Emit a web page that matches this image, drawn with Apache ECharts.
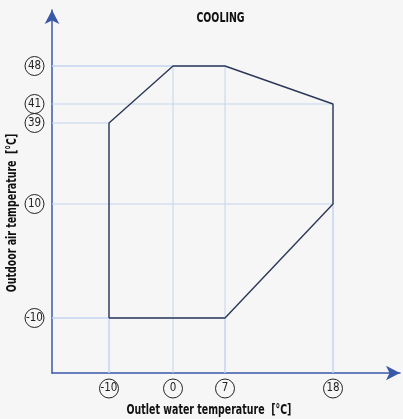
<!DOCTYPE html>
<html>
<head>
<meta charset="utf-8">
<script src="https://cdn.jsdelivr.net/npm/echarts@6/dist/echarts.min.js"></script>
<style>
  html, body { margin: 0; padding: 0; background: #f6f6f6; }
  #chart { width: 403px; height: 419px; }
</style>
</head>
<body>
<div id="chart"></div>
<script>
// ---- data ----
const chartTitle = 'COOLING';
const xAxisTitle = 'Outlet water temperature  [°C]';
const yAxisTitle = 'Outdoor air temperature  [°C]';
const xTicks = [-10, 0, 7, 18];
const yTicks = [-10, 10, 39, 41, 48];
// operating envelope (outlet water temp, outdoor air temp), closed polygon
const envelopeX = [-10, -10, 0, 7, 18, 18, 7, -10];
const envelopeY = [-10, 39, 48, 48, 41, 10, -10, -10];

// ---- layout: non-uniform (piecewise) axis scale ----
const gridBox = { left: 52, right: 3, top: 10, bottom: 46 };
const xAxisLen = 403 - gridBox.left - gridBox.right;
const yAxisLen = 419 - gridBox.top - gridBox.bottom;
const xStopPos = [57, 121, 173, 281];
const yStopPos = [55, 169, 250, 269, 307];

function piecewise(v, dom, rng) {
  let i = 0;
  if (v <= dom[0]) i = 0;
  else if (v >= dom[dom.length - 1]) i = dom.length - 2;
  else { while (v > dom[i + 1]) i++; }
  const t = (v - dom[i]) / (dom[i + 1] - dom[i]);
  return rng[i] + t * (rng[i + 1] - rng[i]);
}
const sx = v => piecewise(v, xTicks, xStopPos);
const sy = v => piecewise(v, yTicks, yStopPos);

const polyData = envelopeX.map((x, i) => [sx(x), sy(envelopeY[i])]);
const vertexData = [];
envelopeX.forEach((x, i) => {
  const key = x + ',' + envelopeY[i];
  if (!vertexData.some(d => d.key === key)) vertexData.push({ key, value: [sx(x), sy(envelopeY[i])] });
});

const axisColor = '#3a58a8';
const gridColor = '#c4d4f0';
const lineColor = '#2c3859';
const titleFont = 'bold 14px "DejaVu Sans Condensed", "DejaVu Sans", sans-serif';
const condense = 0.75;

function circledLabel(ticks, stops) {
  return {
    show: true,
    customValues: stops,
    formatter: v => {
      let best = 0;
      stops.forEach((s, i) => { if (Math.abs(s - v) < Math.abs(stops[best] - v)) best = i; });
      return '{c|' + ticks[best] + '}';
    },
    rich: {
      c: {
        width: 19, height: 19, lineHeight: 19,
        borderRadius: 10, borderColor: '#222', borderWidth: 1,
        align: 'center', verticalAlign: 'middle',
        fontSize: 11.5, color: '#222', fontFamily: '"DejaVu Sans Condensed", sans-serif'
      }
    }
  };
}

const chart = echarts.init(document.getElementById('chart'));
chart.setOption({
  backgroundColor: '#f6f6f6',
  animation: false,
  grid: gridBox,
  xAxis: {
    type: 'value', min: 0, max: xAxisLen,
    axisLine: { show: true, symbol: ['none', 'arrow'], symbolSize: [11, 14], lineStyle: { color: axisColor, width: 1.5 } },
    axisTick: { show: false },
    splitLine: { show: false },
    axisLabel: Object.assign(circledLabel(xTicks, xStopPos), { margin: 6 })
  },
  yAxis: {
    type: 'value', min: 0, max: yAxisLen,
    axisLine: { show: true, symbol: ['none', 'arrow'], symbolSize: [11, 14], lineStyle: { color: axisColor, width: 1.5 } },
    axisTick: { show: false },
    splitLine: { show: false },
    axisLabel: Object.assign(circledLabel(yTicks, yStopPos), { margin: 8 })
  },
  graphic: [
    { type: 'text', x: 220.5, y: 18, scaleX: condense, style: { text: chartTitle, fill: '#111', font: titleFont, textAlign: 'center', textVerticalAlign: 'middle' } },
    { type: 'text', x: 209, y: 410, scaleX: condense, style: { text: xAxisTitle, fill: '#111', font: titleFont, textAlign: 'center', textVerticalAlign: 'middle' } },
    { type: 'text', x: 12.5, y: 213, rotation: Math.PI / 2, scaleX: condense, style: { text: yAxisTitle, fill: '#111', font: titleFont, textAlign: 'center', textVerticalAlign: 'middle' } }
  ],
  series: [
    {
      type: 'custom',
      data: vertexData.map(d => d.value),
      z: 1,
      silent: true,
      renderItem: (params, api) => {
        const p = api.coord([api.value(0), api.value(1)]);
        const cs = params.coordSys;
        return {
          type: 'group',
          children: [
            { type: 'line', shape: { x1: p[0], y1: p[1], x2: p[0], y2: cs.y + cs.height }, style: { stroke: gridColor, lineWidth: 1 } },
            { type: 'line', shape: { x1: cs.x, y1: p[1], x2: p[0], y2: p[1] }, style: { stroke: gridColor, lineWidth: 1 } }
          ]
        };
      }
    },
    {
      type: 'line',
      data: polyData,
      z: 3,
      symbol: 'none',
      silent: true,
      lineStyle: { color: lineColor, width: 1.4 }
    }
  ]
});
</script>
</body>
</html>
